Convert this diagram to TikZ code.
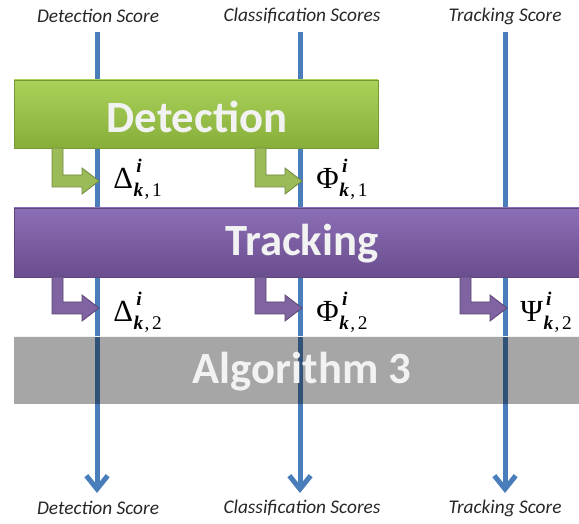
\documentclass[tikz,border=0pt]{standalone}
\usepackage{fontspec}
\setmainfont{Carlito}
\newfontfamily\grk{Liberation Serif}
\usetikzlibrary{arrows.meta}
\definecolor{lineblue}{HTML}{4A7EBB}
\definecolor{gtop}{HTML}{AAD25A}
\definecolor{gbot}{HTML}{88AE3A}
\definecolor{gedge}{HTML}{789A34}
\definecolor{ptop}{HTML}{8C6EB6}
\definecolor{pbot}{HTML}{6A4E8E}
\definecolor{pedge}{HTML}{5E4580}
\definecolor{grayfill}{HTML}{A6A6A6}
\definecolor{boxtext}{HTML}{F2F2F2}
\definecolor{garrfill}{HTML}{9BBB59}
\definecolor{garredge}{HTML}{71893F}
\definecolor{parrfill}{HTML}{8064A2}
\definecolor{parredge}{HTML}{5C4776}
\tikzset{
  scorelabel/.style={font=\fontsize{14.5}{16}\selectfont\itshape, text=black!85},
  scoreline/.style={draw=lineblue, line width=3.75pt, -{Straight Barb[length=10pt,width=16pt,line width=3.75pt]}},
  boxtitle/.style={font=\fontsize{33.5}{38}\selectfont\bfseries, text=boxtext},
  mathlabel/.style={font=\grk\fontsize{23}{26}\selectfont, anchor=base west, inner sep=0pt},
  garrow/.style={fill=garrfill, draw=garredge, line width=0.6pt},
  parrow/.style={fill=parrfill, draw=parredge, line width=0.6pt}
}
\newcommand\bentarr[4]{% style, linex, ytop, ycenter
  \path[#1] (#2-45,#3) -- (#2-34,#3) -- (#2-34,#4-6) -- (#2-15,#4-6) -- (#2-15,#4-13)
    -- (#2+2,#4) -- (#2-15,#4+13) -- (#2-15,#4+6) -- (#2-45,#4+6) -- cycle;}
\newcommand\scrfont{\grk\fontsize{14.5}{15}\selectfont}
\newcommand\symlab[2]{#1\kern0.5pt\rlap{\kern2pt\raisebox{12pt}{\scrfont\bfseries\itshape i}}\raisebox{-6pt}{\scrfont{\bfseries\itshape k}\kern1pt,\kern2pt#2}}
\begin{document}
\begin{tikzpicture}[x=0.75pt,y=-0.75pt]
\useasboundingbox (0,0) rectangle (579,524);
% score labels
\node[scorelabel] (t1) at (98,16) {Detection Score};
\node[scorelabel] (t2) at (302,16) {Classification Scores};
\node[scorelabel] (t3) at (505,16) {Tracking Score};
\node[scorelabel] (b1) at (98,508) {Detection Score};
\node[scorelabel] (b2) at (302,508) {Classification Scores};
\node[scorelabel] (b3) at (505,508) {Tracking Score};
\coordinate (s1) at (97,32);  \coordinate (e1) at (97,493);
\coordinate (s2) at (300,32); \coordinate (e2) at (300,493);
\coordinate (s3) at (505,32); \coordinate (e3) at (505,493);
\draw[scoreline] (s1) -- (e1);
\draw[scoreline] (s2) -- (e2);
\draw[scoreline] (s3) -- (e3);
% boxes
\path[top color=gtop, bottom color=gbot, draw=gedge, line width=0.5pt] (14,80) rectangle (378,148);
\path[top color=ptop, bottom color=pbot, draw=pedge, line width=0.5pt] (14,208) rectangle (580,277);
\begin{scope}[blend mode=multiply]
\path[fill=grayfill] (14,336) rectangle (580,404);
\end{scope}
\draw[white!85!grayfill, line width=1pt] (14,336.5) -- (580,336.5);
\node[boxtitle] (det) at (197,117) {Detection};
\node[boxtitle] (trk) at (302,244) {Tracking};
\node[boxtitle] (alg) at (302,372) {Algorithm 3};
% bent arrows
\bentarr{garrow}{97}{148}{181}
\bentarr{garrow}{300}{148}{181}
\bentarr{parrow}{97}{277}{308}
\bentarr{parrow}{300}{277}{308}
\bentarr{parrow}{505}{277}{308}
% math labels
\node[mathlabel] (d1) at (113,189) {\symlab{Δ}{1}};
\node[mathlabel] (f1) at (316,189) {\symlab{Φ}{1}};
\node[mathlabel] (d2) at (113,321) {\symlab{Δ}{2}};
\node[mathlabel] (f2) at (316,321) {\symlab{Φ}{2}};
\node[mathlabel] (p2) at (520,321) {\symlab{Ψ}{2}};
\end{tikzpicture}
\end{document}
